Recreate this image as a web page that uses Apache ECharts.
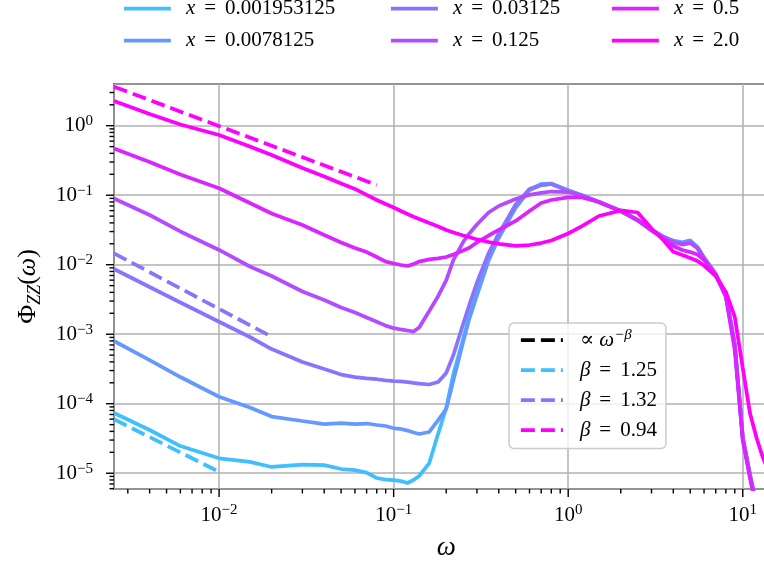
<!DOCTYPE html>
<html lang="en">
<head>
<meta charset="UTF-8">
<title>Phi_ZZ spectrum</title>
<style>html,body{margin:0;padding:0;background:#fff;}</style>
</head>
<body>
<div id="chart" style="width:764px;height:565px;"></div>
<script src="https://cdn.jsdelivr.net/npm/echarts@6/dist/echarts.min.js"></script>
<script>
// frequency grid (omega)
var omega = [0.0025, 0.004, 0.006, 0.01, 0.015, 0.02, 0.03, 0.04, 0.05, 0.06, 0.07, 0.08, 0.09, 0.1,
  0.11, 0.12, 0.13, 0.14, 0.16, 0.18, 0.2, 0.22, 0.25, 0.27, 0.3, 0.35, 0.4, 0.5, 0.6, 0.7, 0.8,
  1, 1.2, 1.5, 2, 2.5, 3, 3.5, 4, 4.5, 5, 5.5, 6, 7, 8, 9, 10, 11, 12, 13, 14];

var xLabels = ['0.001953125', '0.0078125', '0.03125', '0.125', '0.5', '2.0'];

var phiA = [7.35e-5, 4.19e-5, 2.46e-5, 1.64e-5, 1.46e-5, 1.23e-5, 1.33e-5, 1.31e-5, 1.15e-5, 1.11e-5,
  1.02e-5, 8.53e-6, 8.11e-6, 7.98e-6, 7.72e-6, 7.23e-6, 7.98e-6, 9.12e-6, 1.40e-5, 3.72e-5, 8.67e-5,
  2.68e-4, 8.53e-4, 1.80e-3, 4.05e-3, 1.43e-2, 2.81e-2, 6.55e-2, 0.119, 0.145, 0.147, 0.117, 0.099,
  0.0798, 0.0593, 0.0440, 0.0316, 0.0250, 0.0219, 0.0205, 0.0219, 0.0180, 0.0127, 0.00735, 0.00366,
  7.0e-4, 3.21e-5, 9.42e-6, 3.4e-6, 1.2e-6, 5e-7];
var phiB = [7.98e-4, 4.25e-4, 2.42e-4, 1.26e-4, 8.82e-5, 6.54e-5, 5.64e-5, 5.10e-5, 5.27e-5, 5.10e-5,
  5.19e-5, 4.94e-5, 4.78e-5, 4.43e-5, 4.33e-5, 4.11e-5, 3.85e-5, 3.67e-5, 3.92e-5, 5.82e-5, 8.39e-5,
  2.19e-4, 7.72e-4, 1.60e-3, 3.61e-3, 1.15e-2, 2.42e-2, 6.65e-2, 0.119, 0.140, 0.145, 0.118, 0.100,
  0.0805, 0.0600, 0.0445, 0.0320, 0.0255, 0.0222, 0.0210, 0.0225, 0.0178, 0.0125, 0.0072, 0.0036,
  6.8e-4, 3.1e-5, 9.0e-6, 3.2e-6, 1.1e-6, 5e-7];
var phiC = [8.67e-3, 4.78e-3, 2.86e-3, 1.51e-3, 9.12e-4, 6.12e-4, 3.98e-4, 3.16e-4, 2.63e-4, 2.42e-4,
  2.31e-4, 2.25e-4, 2.17e-4, 2.12e-4, 2.09e-4, 2.05e-4, 1.99e-4, 1.95e-4, 1.89e-4, 2.05e-4, 2.77e-4,
  5.02e-4, 1.40e-3, 2.55e-3, 5.54e-3, 1.47e-2, 2.77e-2, 7.35e-2, 0.123, 0.140, 0.145, 0.116, 0.098,
  0.079, 0.0590, 0.0438, 0.0318, 0.0252, 0.0215, 0.0200, 0.0212, 0.0176, 0.0126, 0.0074, 0.0037,
  7.2e-4, 3.3e-5, 9.6e-6, 3.5e-6, 1.2e-6, 5e-7];
var phiD = [8.97e-2, 5.19e-2, 3.01e-2, 1.63e-2, 9.42e-3, 6.88e-3, 4.11e-3, 3.10e-3, 2.42e-3, 2.05e-3,
  1.74e-3, 1.51e-3, 1.33e-3, 1.22e-3, 1.17e-3, 1.13e-3, 1.09e-3, 1.25e-3, 2.16e-3, 3.55e-3, 5.93e-3,
  1.17e-2, 2.12e-2, 2.77e-2, 3.79e-2, 5.64e-2, 7.00e-2, 8.81e-2, 0.101, 0.108, 0.113, 0.111, 0.099,
  0.0795, 0.0590, 0.0438, 0.0312, 0.0245, 0.0210, 0.0195, 0.0205, 0.0172, 0.0124, 0.0072, 0.0036,
  7.0e-4, 3.2e-5, 9.3e-6, 3.3e-6, 1.1e-6, 5e-7];
var phiE = [0.470, 0.300, 0.199, 0.126, 0.0772, 0.0545, 0.0373, 0.0267, 0.0209, 0.0174, 0.0152, 0.0129,
  0.0111, 0.0104, 0.00990, 0.00958, 0.0102, 0.0111, 0.0119, 0.0123, 0.0129, 0.0140, 0.0160, 0.0174,
  0.0209, 0.0263, 0.0316, 0.0426, 0.0593, 0.0772, 0.0853, 0.0933, 0.0927, 0.0798, 0.0590, 0.0435,
  0.0310, 0.0240, 0.0186, 0.0163, 0.0152, 0.0140, 0.0117, 0.00711, 0.00343, 5.93e-4, 3.0e-5, 8.5e-6,
  3.0e-6, 1.0e-6, 5e-7];
var phiF = [2.27, 1.47, 1.04, 0.735, 0.502, 0.379, 0.246, 0.186, 0.147, 0.123, 0.101, 0.0853, 0.0747,
  0.0665, 0.0593, 0.0536, 0.0491, 0.0455, 0.0398, 0.0355, 0.0316, 0.0291, 0.0263, 0.0250, 0.0231,
  0.0212, 0.0199, 0.0186, 0.0192, 0.0205, 0.0223, 0.0281, 0.0360, 0.0502, 0.0603, 0.0564, 0.0332,
  0.0227, 0.0154, 0.0138, 0.0125, 0.0113, 0.00973, 0.00688, 0.00405, 0.00177, 3.27e-4, 7.28e-5,
  3.21e-5, 1.71e-5, 1.11e-5];

// power-law guides
var betaLabels = ['1.25', '1.32', '0.94'];
var fitOmega1 = [0.0025, 0.01], fitPhi1 = [5.97e-5, 1.05e-5];
var fitOmega2 = [0.0025, 0.02], fitPhi2 = [0.0146, 9.2e-4];
var fitOmega3 = [0.0025, 0.08], fitPhi3 = [3.64, 0.140];

var colors = ['#40bfff', '#6699ff', '#8c73ff', '#b34cff', '#d926ff', '#ff00ff'];
var fitColors = ['#000000', '#40bfff', '#8c73ff', '#ff00ff'];

// axis ranges and ticks
var xMin = 0.0025, xMax = 16, yMin = 5.93e-6, yMax = 3.98;
var xMajor = [0.01, 0.1, 1, 10];
var xMinor = [0.003, 0.004, 0.005, 0.006, 0.007, 0.008, 0.009, 0.02, 0.03, 0.04, 0.05, 0.06, 0.07,
  0.08, 0.09, 0.2, 0.3, 0.4, 0.5, 0.6, 0.7, 0.8, 0.9, 2, 3, 4, 5, 6, 7, 8, 9];
var yMajor = [1e-5, 1e-4, 1e-3, 1e-2, 1e-1, 1];
var yMinor = [6e-6, 7e-6, 8e-6, 9e-6, 2e-5, 3e-5, 4e-5, 5e-5, 6e-5, 7e-5, 8e-5, 9e-5,
  2e-4, 3e-4, 4e-4, 5e-4, 6e-4, 7e-4, 8e-4, 9e-4, 2e-3, 3e-3, 4e-3, 5e-3, 6e-3, 7e-3, 8e-3, 9e-3,
  0.02, 0.03, 0.04, 0.05, 0.06, 0.07, 0.08, 0.09, 0.2, 0.3, 0.4, 0.5, 0.6, 0.7, 0.8, 0.9, 2, 3];

var serif = "'Liberation Serif', 'DejaVu Serif', serif";
var lw = 3.75;

function pairs(xs, ys) {
  return xs.map(function (x, i) { return [x, ys[i]]; });
}

function powLabel(v) {
  var e = Math.log10(v);
  var r = Math.round(e);
  if (Math.abs(e - r) > 1e-6) return '';
  return '{b|10}{s|' + (r < 0 ? '\u2212' + (-r) : r) + '}';
}

var tickRich = {
  b: { fontFamily: serif, fontSize: 21, lineHeight: 24, color: '#000' },
  s: { fontFamily: serif, fontSize: 15, lineHeight: 15, verticalAlign: 'top', color: '#000' }
};

var legendRich = {
  g: { width: 10 },
  g2: { width: 12 },
  i: { fontFamily: serif, fontStyle: 'italic', fontSize: 21, lineHeight: 24, color: '#000' },
  n: { fontFamily: serif, fontSize: 21, lineHeight: 24, color: '#000' },
  e: { fontFamily: serif, fontSize: 21, lineHeight: 24, padding: [0, 9, 0, 9], color: '#000' },
  s: { fontFamily: serif, fontStyle: 'italic', fontSize: 15, lineHeight: 15, verticalAlign: 'top', color: '#000' }
};

function legendText(name) {
  if (name.charAt(0) === 'x') {
    return '{g| }{i|x}{e|=}{n|' + xLabels[+name.slice(1)] + '}';
  }
  if (name === 'fit0') return '{g2| }{n|\u221d }{i|\u03c9}{s|\u2212\u03b2}';
  return '{g2| }{i|\u03b2}{e|=}{n|' + betaLabels[+name.slice(3) - 1] + '}';
}

function tickSeries(vals, axis, len) {
  return {
    type: 'custom', silent: true, z: 6, clip: false,
    data: vals.map(function (v) { return axis === 'x' ? [v, yMin] : [xMin, v]; }),
    renderItem: function (params, api) {
      var p = api.coord([api.value(0), api.value(1)]);
      var shape = axis === 'x'
        ? { x1: p[0], y1: p[1], x2: p[0], y2: p[1] + len }
        : { x1: p[0], y1: p[1], x2: p[0] - len, y2: p[1] };
      return { type: 'line', shape: shape, style: { stroke: '#000', lineWidth: 1.4 } };
    }
  };
}

var series = [];
[phiA, phiB, phiC, phiD, phiE, phiF].forEach(function (vals, i) {
  series.push({
    name: 'x' + i, type: 'line', data: pairs(omega, vals),
    symbol: 'none', z: 3,
    itemStyle: { color: colors[i] },
    lineStyle: { color: colors[i], width: lw }
  });
});
series.push({
  name: 'fit0', type: 'line', data: [], symbol: 'none',
  itemStyle: { color: fitColors[0] },
  lineStyle: { color: fitColors[0], width: lw, type: [14, 6] }
});
[[fitOmega1, fitPhi1], [fitOmega2, fitPhi2], [fitOmega3, fitPhi3]].forEach(function (f, i) {
  series.push({
    name: 'fit' + (i + 1), type: 'line', data: pairs(f[0], f[1]), symbol: 'none', z: 4,
    itemStyle: { color: fitColors[i + 1] },
    lineStyle: { color: fitColors[i + 1], width: lw, type: [14, 6] }
  });
});
series.push(tickSeries(xMajor, 'x', 8));
series.push(tickSeries(xMinor, 'x', 4.5));
series.push(tickSeries(yMajor, 'y', 8));
series.push(tickSeries(yMinor, 'y', 4.5));

function topLegend(left, names) {
  return {
    data: names, left: left, top: -2, orient: 'vertical',
    itemWidth: 47, itemHeight: 14, itemGap: 11, padding: 0,
    selectedMode: false, formatter: legendText,
    itemStyle: { color: 'transparent', borderWidth: 0 },
    lineStyle: { width: lw },
    textStyle: { rich: legendRich }
  };
}

var myChart = echarts.init(document.getElementById('chart'));
var option = {
  animation: false,
  backgroundColor: '#fff',
  grid: {
    left: 114, top: 84, width: 664.4, height: 405,
    outerBoundsMode: 'none', containLabel: false,
    show: true, borderColor: '#000', borderWidth: 1.6, backgroundColor: 'transparent'
  },
  legend: [
    topLegend(122, ['x0', 'x1']),
    topLegend(389, ['x2', 'x3']),
    topLegend(610, ['x4', 'x5']),
    {
      data: ['fit0', 'fit1', 'fit2', 'fit3'], left: 509, top: 323, orient: 'vertical',
      itemWidth: 42, itemHeight: 14, itemGap: 9, padding: [5, 9, 8, 10],
      backgroundColor: 'rgba(255,255,255,0.8)', borderColor: '#cccccc', borderWidth: 1.5, borderRadius: 5,
      selectedMode: false, formatter: legendText,
      itemStyle: { color: 'transparent', borderWidth: 0 },
      lineStyle: { width: lw },
      textStyle: { rich: legendRich }
    }
  ],
  xAxis: {
    type: 'log', logBase: 10, min: xMin, max: xMax,
    name: '\u03c9', nameLocation: 'middle', nameGap: 45,
    nameTextStyle: { fontFamily: serif, fontStyle: 'italic', fontSize: 27, color: '#000' },
    axisLine: { show: false }, axisTick: { show: false },
    axisLabel: { formatter: powLabel, margin: 14, rich: tickRich, color: '#000' },
    splitLine: { show: true, lineStyle: { color: '#b0b0b0', width: 1.5 } }
  },
  yAxis: {
    type: 'log', logBase: 10, min: yMin, max: yMax,
    name: '{n|\u03a6}{sub|ZZ}{n|(}{i|\u03c9}{n|)}', nameLocation: 'middle', nameGap: 70, nameRotate: 90,
    nameTextStyle: {
      color: '#000',
      rich: {
        n: { fontFamily: serif, fontSize: 26, lineHeight: 32, color: '#000' },
        i: { fontFamily: serif, fontStyle: 'italic', fontSize: 26, lineHeight: 32, color: '#000' },
        sub: { fontFamily: serif, fontStyle: 'italic', fontSize: 18, lineHeight: 18, verticalAlign: 'bottom', color: '#000' }
      }
    },
    axisLine: { show: false }, axisTick: { show: false },
    axisLabel: { formatter: powLabel, margin: 21, rich: tickRich, color: '#000' },
    splitLine: { show: true, lineStyle: { color: '#b0b0b0', width: 1.5 } }
  },
  series: series
};
myChart.setOption(option);
</script>
</body>
</html>
